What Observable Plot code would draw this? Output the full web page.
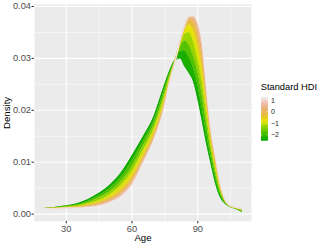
<!DOCTYPE html>
<html><head><meta charset="utf-8">
<script src="https://cdn.jsdelivr.net/npm/d3@7"></script>
<script src="https://cdn.jsdelivr.net/npm/@observablehq/plot@0.6"></script>
<style>
html,body{margin:0;padding:0;background:#fff;}
svg{display:block;}
</style></head><body><div id="chart"></div>
<script>
// ---- data ----
const ages = [20,25,30,35,40,45,50,55,60,65,70,74,77,80,82,84,86,88,90,92,94,96,98,100,102,104,107,110];
const hdiLevels = [-2.5,-2,-1.5,-1,-0.5,0,0.5,1,1.3];
const densHdiM25 = [0.0011,0.0013,0.0016,0.0020,0.0028,0.0040,0.0056,0.0079,0.0112,0.0148,0.0188,0.0238,0.0274,0.0298,0.0300,0.0285,0.0272,0.0256,0.0222,0.0180,0.0136,0.0098,0.0061,0.0035,0.0022,0.0016,0.0011,0.0005];
const densHdiM20 = [0.0011,0.0013,0.0015,0.0018,0.0025,0.0035,0.0049,0.0070,0.0101,0.0138,0.0179,0.0229,0.0270,0.0300,0.0314,0.0315,0.0302,0.0282,0.0250,0.0205,0.0157,0.0111,0.0071,0.0041,0.0024,0.0016,0.0011,0.0006];
const densHdiM15 = [0.0011,0.0012,0.0015,0.0017,0.0022,0.0031,0.0043,0.0062,0.0090,0.0129,0.0171,0.0221,0.0266,0.0301,0.0323,0.0334,0.0326,0.0305,0.0275,0.0230,0.0176,0.0122,0.0080,0.0046,0.0026,0.0017,0.0012,0.0007];
const densHdiM10 = [0.0011,0.0012,0.0014,0.0016,0.0020,0.0026,0.0037,0.0054,0.0081,0.0120,0.0163,0.0214,0.0262,0.0302,0.0328,0.0347,0.0350,0.0333,0.0300,0.0257,0.0194,0.0133,0.0089,0.0050,0.0028,0.0017,0.0012,0.0008];
const densHdiM05 = [0.0011,0.0012,0.0013,0.0014,0.0018,0.0023,0.0032,0.0047,0.0072,0.0112,0.0157,0.0207,0.0259,0.0302,0.0331,0.0355,0.0365,0.0355,0.0326,0.0282,0.0210,0.0143,0.0097,0.0055,0.0029,0.0017,0.0012,0.0009];
const densHdiP00 = [0.0011,0.0011,0.0013,0.0013,0.0016,0.0020,0.0028,0.0041,0.0065,0.0106,0.0151,0.0202,0.0256,0.0301,0.0333,0.0359,0.0374,0.0370,0.0347,0.0303,0.0223,0.0150,0.0103,0.0058,0.0030,0.0018,0.0013,0.0010];
const densHdiP05 = [0.0011,0.0011,0.0012,0.0013,0.0014,0.0018,0.0025,0.0037,0.0060,0.0102,0.0147,0.0198,0.0254,0.0301,0.0334,0.0361,0.0379,0.0378,0.0360,0.0318,0.0232,0.0156,0.0107,0.0060,0.0031,0.0018,0.0013,0.0010];
const densHdiP10 = [0.0011,0.0011,0.0012,0.0012,0.0014,0.0016,0.0023,0.0034,0.0057,0.0099,0.0144,0.0195,0.0253,0.0300,0.0335,0.0362,0.0380,0.0382,0.0367,0.0328,0.0239,0.0160,0.0110,0.0062,0.0032,0.0018,0.0013,0.0011];
const densHdiP13 = [0.0011,0.0011,0.0012,0.0012,0.0013,0.0015,0.0022,0.0033,0.0055,0.0097,0.0143,0.0194,0.0252,0.0300,0.0335,0.0362,0.0381,0.0383,0.0370,0.0333,0.0242,0.0162,0.0113,0.0063,0.0032,0.0018,0.0013,0.0011];
const xTicks = [30,60,90];
const xMinor = [45,75,105];
const yTicks = [0,0.01,0.02,0.03,0.04];
const yMinor = [0.005,0.015,0.025,0.035];
const legendTicks = [1,0,-1,-2];
const terrain = ["#00A600","#2DB600","#63C600","#A0D600","#E6E600","#E8C32E","#EBB25E","#EDB48E","#F0C9C0","#F2F2F2"];

// ---- tables built from the arrays ----
const curves = [densHdiM25,densHdiM20,densHdiM15,densHdiM10,densHdiM05,densHdiP00,densHdiP05,densHdiP10,densHdiP13];
const lineRows = [];
hdiLevels.forEach((h,i)=>ages.forEach((a,j)=>lineRows.push({age:a,hdi:h,d:curves[i][j]})));
const bandRows = [];
for (let i=0;i<hdiLevels.length-1;i++) ages.forEach((a,j)=>bandRows.push({age:a,band:i,mid:(hdiLevels[i]+hdiLevels[i+1])/2,lo:curves[i][j],hi:curves[i+1][j]}));

const hdiMin = hdiLevels[0], hdiMax = hdiLevels[hdiLevels.length-1];
const colorDomain = terrain.map((c,i)=>hdiMin + i*(hdiMax-hdiMin)/(terrain.length-1));

const plot = Plot.plot({
  width:322, height:245,
  marginLeft:34, marginRight:71, marginTop:3.9, marginBottom:24.1,
  x:{domain:[15.5,114.5]},
  y:{domain:[-0.0014,0.0404]},
  color:{type:"linear", domain:colorDomain, range:terrain},
  style:{fontFamily:"'Liberation Sans', Arial, sans-serif", fontSize:"9.3px", background:"white", color:"black"},
  marks:[
    Plot.frame({fill:"#EBEBEB", stroke:"none"}),
    Plot.gridX(xMinor,{stroke:"white",strokeOpacity:1,strokeWidth:0.55}),
    Plot.gridY(yMinor,{stroke:"white",strokeOpacity:1,strokeWidth:0.55}),
    Plot.gridX(xTicks,{stroke:"white",strokeOpacity:1,strokeWidth:1.1}),
    Plot.gridY(yTicks,{stroke:"white",strokeOpacity:1,strokeWidth:1.1}),
    Plot.areaY(bandRows,{x:"age",y1:"lo",y2:"hi",z:"band",fill:"mid",curve:"monotone-x"}),
    Plot.line(lineRows,{x:"age",y:"d",z:"hdi",stroke:"hdi",strokeWidth:0.7,curve:"monotone-x"}),
    Plot.axisX(xTicks,{tickSize:2.5,tickPadding:1.2,stroke:"#333333",fill:"#4D4D4D",label:null}),
    Plot.axisY(yTicks,{tickSize:2.5,tickPadding:1,stroke:"#333333",fill:"#4D4D4D",tickFormat:d3.format(".2f"),label:null}),
    Plot.text(["Age"],{frameAnchor:"bottom",dy:16.3,lineAnchor:"middle",textAnchor:"middle",fontSize:9.6,fill:"black"}),
    Plot.text(["Density"],{frameAnchor:"left",dx:-27.3,rotate:-90,lineAnchor:"middle",textAnchor:"middle",fontSize:9.6,fill:"black"})
  ]
});
document.getElementById("chart").appendChild(plot);

// ---- colorbar legend (ggplot style) ----
const color = plot.scale("color");
const svg = d3.select(plot);
const barX = 261, barW = 7, barTop = 96.7, barBottom = 140.7;
const yL = d3.scaleLinear([hdiMin,hdiMax],[barBottom,barTop]);
const grad = svg.append("defs").append("linearGradient").attr("id","hdiGrad")
  .attr("x1",0).attr("y1",1).attr("x2",0).attr("y2",0);
d3.range(0,41).forEach(k=>{
  const v = hdiMin + k*(hdiMax-hdiMin)/40;
  grad.append("stop").attr("offset",(k/40*100)+"%").attr("stop-color",color.apply(v));
});
const lg = svg.append("g").attr("font-family","'Liberation Sans', Arial, sans-serif").attr("text-anchor","start");
lg.append("text").attr("x",260.7).attr("y",90).attr("text-anchor","start").attr("font-size","9.3px").attr("fill","black").text("Standard HDI");
lg.append("rect").attr("x",barX).attr("y",barTop).attr("width",barW).attr("height",barBottom-barTop).attr("fill","url(#hdiGrad)");
const fmt = d3.format("d");
legendTicks.forEach(v=>{
  const y = yL(v);
  lg.append("line").attr("x1",barX).attr("x2",barX+1.4).attr("y1",y).attr("y2",y).attr("stroke","white").attr("stroke-width",0.5);
  lg.append("line").attr("x1",barX+barW-1.4).attr("x2",barX+barW).attr("y1",y).attr("y2",y).attr("stroke","white").attr("stroke-width",0.5);
  lg.append("text").attr("x",barX+barW+3).attr("y",y).attr("dy","0.35em").attr("text-anchor","start").attr("font-size","7px").attr("fill","#1A1A1A").text(fmt(v));
});
</script></body></html>
